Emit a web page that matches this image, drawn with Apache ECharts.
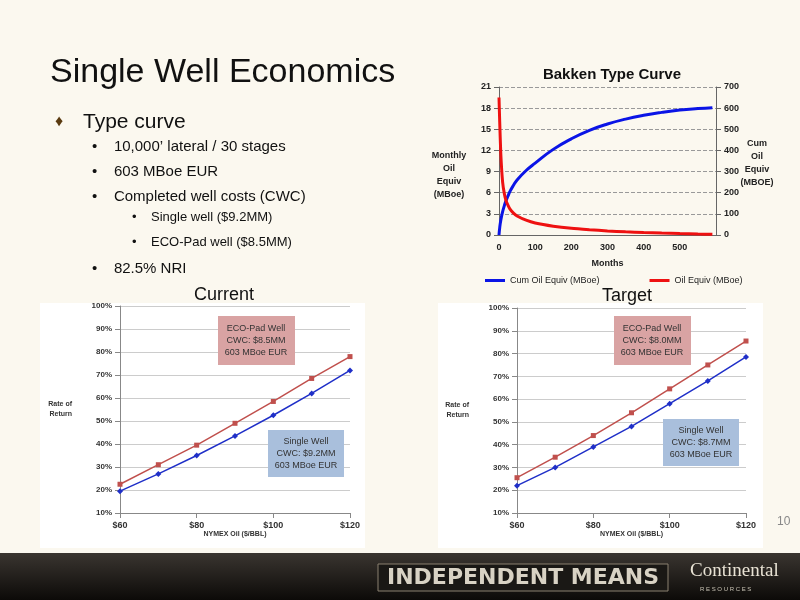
<!DOCTYPE html><html><head><meta charset="utf-8">
<script src="https://cdn.jsdelivr.net/npm/echarts@6/dist/echarts.min.js"></script>
<style>html,body{margin:0;padding:0}#c{width:800px;height:600px}</style></head><body><div id="c"></div>
<script>
const tcMonths = [0,2,5,10,15,20,25,30,40,50,75,100,150,200,250,300,350,400,450,500,550,590];
const tcMonthly = [19.5,16,11.5,7.5,5.8,4.8,4.2,3.7,3.1,2.7,2.1,1.7,1.25,0.95,0.75,0.58,0.45,0.35,0.27,0.2,0.14,0.1];
const tcCum = [0,35,70,110,140,165,185,205,235,260,305,340,405,455,495,525,548,566,580,591,598,602];
const prices = [60,70,80,90,100,110,120];
const curSingle = [19.5,27,35,43.5,52.5,62,72];
const curEco = [22.5,31,39.5,49,58.5,68.5,78];
const tgtSingle = [22,30,39,48,58,68,78.5];
const tgtEco = [25.5,34.5,44,54,64.5,75,85.5];

const chart = echarts.init(document.getElementById('c'));
const pairs = (xs, ys) => xs.map((x,i)=>[x,ys[i]]);
const small = {fontFamily:'Liberation Sans',fontSize:8,fontWeight:'bold',color:'#333'};
function rorAxes(gi){
  return {
    x:{type:'value',gridIndex:gi,min:60,max:120,interval:20,axisLabel:{...small,fontSize:9,formatter:v=>'$'+v},
       axisLine:{lineStyle:{color:'#888'}},axisTick:{show:true,lineStyle:{color:'#888'}},splitLine:{show:false},
       name:'NYMEX Oil ($/BBL)',nameLocation:'middle',nameGap:17,nameTextStyle:{...small,fontSize:7}},
    y:{type:'value',gridIndex:gi,min:10,max:100,interval:10,axisLabel:{...small,formatter:v=>v+'%'},
       axisLine:{show:true,lineStyle:{color:'#888'}},splitLine:{lineStyle:{color:'#ccc'}},
       name:'Rate of\nReturn',nameLocation:'middle',nameRotate:0,nameGap:48,nameTextStyle:{...small,fontSize:7,lineHeight:10}}
  };
}
const a1 = rorAxes(1), a2 = rorAxes(2);
const tcFont = {fontFamily:'Liberation Sans',fontSize:9,fontWeight:'bold',color:'#222'};
const Z = 100;
chart.setOption({
  backgroundColor:'#fbf8ef',
  title:{text:'Bakken Type Curve',left:607,top:62,textAlign:'center',textStyle:{fontFamily:'Liberation Sans',fontSize:15,fontWeight:'bold',color:'#111'}},
  legend:{data:['Cum Oil Equiv (MBoe)','Oil Equiv (MBoe)'],left:480,top:271,itemGap:50,itemWidth:20,itemHeight:3,icon:'rect',textStyle:{fontFamily:'Liberation Sans',fontSize:9,color:'#222'}},
  grid:[
    {left:499,top:87,width:217,height:148},
    {left:120,top:306,width:230,height:207},
    {left:517,top:308,width:229,height:205}
  ],
  xAxis:[
    {type:'value',gridIndex:0,min:0,max:600,interval:100,axisLabel:{...tcFont,formatter:v=>v>=600?'':v},axisLine:{lineStyle:{color:'#666'}},axisTick:{show:false},splitLine:{show:false},
     name:'Months',nameLocation:'middle',nameGap:24,nameTextStyle:tcFont},
    a1.x,a2.x
  ],
  yAxis:[
    {type:'value',gridIndex:0,min:0,max:21,interval:3,axisLabel:tcFont,axisLine:{show:true,lineStyle:{color:'#666'}},splitLine:{lineStyle:{color:'#999',type:'dashed'}},
     name:'',},
    {type:'value',gridIndex:0,position:'right',min:0,max:700,interval:100,axisLabel:tcFont,axisLine:{show:true,lineStyle:{color:'#666'}},splitLine:{show:false},name:''},
    a1.y,a2.y
  ],
  series:[
    {name:'Cum Oil Equiv (MBoe)',type:'line',xAxisIndex:0,yAxisIndex:1,data:pairs(tcMonths,tcCum),smooth:true,showSymbol:false,lineStyle:{color:'#0a14e6',width:3},itemStyle:{color:'#0a14e6'}},
    {name:'Oil Equiv (MBoe)',type:'line',xAxisIndex:0,yAxisIndex:0,data:pairs(tcMonths,tcMonthly),smooth:0.2,showSymbol:false,lineStyle:{color:'#ee1111',width:3},itemStyle:{color:'#ee1111'}},
    {type:'line',xAxisIndex:1,yAxisIndex:2,data:pairs(prices,curEco),symbol:'rect',symbolSize:5,lineStyle:{color:'#c0504d',width:1.5},itemStyle:{color:'#c0504d'}},
    {type:'line',xAxisIndex:1,yAxisIndex:2,data:pairs(prices,curSingle),symbol:'diamond',symbolSize:6,lineStyle:{color:'#1f2fc8',width:1.5},itemStyle:{color:'#1f2fc8'}},
    {type:'line',xAxisIndex:2,yAxisIndex:3,data:pairs(prices,tgtEco),symbol:'rect',symbolSize:5,lineStyle:{color:'#c0504d',width:1.5},itemStyle:{color:'#c0504d'}},
    {type:'line',xAxisIndex:2,yAxisIndex:3,data:pairs(prices,tgtSingle),symbol:'diamond',symbolSize:6,lineStyle:{color:'#1f2fc8',width:1.5},itemStyle:{color:'#1f2fc8'}}
  ],
  graphic:[
    {type:'rect',shape:{x:40,y:303,width:325,height:245},style:{fill:'#fff'},z:-1},
    {type:'rect',shape:{x:438,y:303,width:325,height:245},style:{fill:'#fff'},z:-1},
    {type:'text',left:50,top:56,style:{text:'Single Well Economics',font:'34px "Liberation Sans"',fill:'#111'}},
    {type:'text',left:55,top:114,style:{text:'♦',font:'16px "Liberation Sans"',fill:'#5a3a10'}},
    {type:'text',left:83,top:112,style:{text:'Type curve',font:'21px "Liberation Sans"',fill:'#111'}},
    {type:'text',left:92,top:139,style:{text:'•    10,000’ lateral / 30 stages\n\n•    603 MBoe EUR\n\n•    Completed well costs (CWC)',font:'15px "Liberation Sans"',fill:'#111',lineHeight:12.5}},
    {type:'text',left:132,top:211,style:{text:'•    Single well ($9.2MM)\n\n•    ECO-Pad well ($8.5MM)',font:'13px "Liberation Sans"',fill:'#111',lineHeight:12.5}},
    {type:'text',left:92,top:261,style:{text:'•    82.5% NRI',font:'15px "Liberation Sans"',fill:'#111'}},
    {type:'text',left:194,top:286,style:{text:'Current',font:'18px "Liberation Sans"',fill:'#111'}},
    {type:'text',left:602,top:287,style:{text:'Target',font:'18px "Liberation Sans"',fill:'#111'}},
    {type:'text',x:449,y:175,style:{text:'Monthly\nOil\nEquiv\n(MBoe)',font:'bold 9px "Liberation Sans"',fill:'#222',align:'center',verticalAlign:'middle',lineHeight:13}},
    {type:'text',x:757,y:163,style:{text:'Cum\nOil\nEquiv\n(MBOE)',font:'bold 9px "Liberation Sans"',fill:'#222',align:'center',verticalAlign:'middle',lineHeight:13}},
    {type:'rect',z:Z,shape:{x:218,y:316,width:77,height:49},style:{fill:'#d9a3a3'}},
    {type:'text',z:Z+1,x:256,y:341,style:{text:'ECO-Pad Well\nCWC: $8.5MM\n603 MBoe EUR',font:'9px "Liberation Sans"',fill:'#333',align:'center',verticalAlign:'middle',lineHeight:12}},
    {type:'rect',z:Z,shape:{x:268,y:430,width:76,height:47},style:{fill:'#a9bfdc'}},
    {type:'text',z:Z+1,x:306,y:454,style:{text:'Single Well\nCWC: $9.2MM\n603 MBoe EUR',font:'9px "Liberation Sans"',fill:'#333',align:'center',verticalAlign:'middle',lineHeight:12}},
    {type:'rect',z:Z,shape:{x:614,y:316,width:77,height:49},style:{fill:'#d9a3a3'}},
    {type:'text',z:Z+1,x:652,y:341,style:{text:'ECO-Pad Well\nCWC: $8.0MM\n603 MBoe EUR',font:'9px "Liberation Sans"',fill:'#333',align:'center',verticalAlign:'middle',lineHeight:12}},
    {type:'rect',z:Z,shape:{x:663,y:419,width:76,height:47},style:{fill:'#a9bfdc'}},
    {type:'text',z:Z+1,x:701,y:443,style:{text:'Single Well\nCWC: $8.7MM\n603 MBoe EUR',font:'9px "Liberation Sans"',fill:'#333',align:'center',verticalAlign:'middle',lineHeight:12}},
    {type:'text',left:777,top:516,style:{text:'10',font:'12px "Liberation Sans"',fill:'#888'}},
    {type:'rect',shape:{x:0,y:553,width:800,height:47},style:{fill:new echarts.graphic.LinearGradient(0,0,0,1,[{offset:0,color:'#3a3530'},{offset:1,color:'#0c0a08'}])}},
    {type:'rect',shape:{x:378,y:564,width:290,height:27},style:{fill:'#1a1815',stroke:'#8a8070',lineWidth:1}},
    {type:'text',x:523,y:578,style:{text:'INDEPENDENT MEANS',font:'bold 22px "DejaVu Sans"',fill:'#d8d2c4',align:'center',verticalAlign:'middle'}},
    {type:'text',left:690,top:562,style:{text:'Continental',font:'19px "Liberation Serif"',fill:'#e8e2d4'}},
    {type:'text',left:700,top:586,style:{text:'R E S O U R C E S',font:'6px "Liberation Sans"',fill:'#c8c2b4'}}
  ]
});
</script></body></html>
